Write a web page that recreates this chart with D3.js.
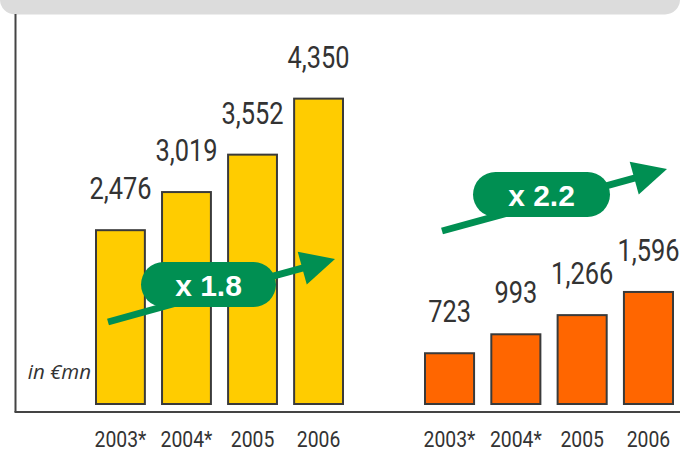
<!DOCTYPE html>
<html>
<head>
<meta charset="utf-8">
<script src="https://cdn.jsdelivr.net/npm/d3@7"></script>
<style>
  html, body { margin: 0; padding: 0; background: #fff; }
  svg { display: block; }
</style>
</head>
<body>
<svg id="chart" width="680" height="452"></svg>
<script>
// Revenue by year, two business segments (in € millions)
const years = ["2003*", "2004*", "2005", "2006"];
const segmentA = [2476, 3019, 3552, 4350];
const segmentB = [723, 993, 1266, 1596];
const unitLabel = "in €mn";

const W = 680, H = 452;
const svg = d3.select("#chart");

const baseY = 404;          // bar baseline
const axisY = 412;          // visible axis rule
const axisX = 15.5;

const y = d3.scaleLinear().domain([0, 5000]).range([baseY, baseY - 351]);

const xA = d3.scaleBand().domain(years).range([96, 343]).paddingInner(0.26).paddingOuter(0);
const xB = d3.scaleBand().domain(years).range([425, 673]).paddingInner(0.26).paddingOuter(0);

const fmt = d3.format(",");
const growth = v => "x " + d3.format(".1f")(v[v.length - 1] / v[0]);

// header band
svg.append("rect")
  .attr("x", 0).attr("y", -20).attr("width", W).attr("height", 34.5)
  .attr("rx", 15).attr("ry", 15)
  .attr("fill", "#dcdcdc");

// axes
svg.append("line")
  .attr("x1", axisX).attr("x2", axisX).attr("y1", 14).attr("y2", axisY)
  .attr("stroke", "#444").attr("stroke-width", 2);
svg.append("line")
  .attr("x1", axisX - 1).attr("x2", W).attr("y1", axisY).attr("y2", axisY)
  .attr("stroke", "#444").attr("stroke-width", 2);

const condensed = 0.82;

function group(x, values, fill) {
  const g = svg.append("g");
  g.selectAll("rect.bar").data(values).join("rect")
    .attr("class", "bar")
    .attr("x", (d, i) => x(years[i]))
    .attr("y", d => y(d))
    .attr("width", x.bandwidth())
    .attr("height", d => y(0) - y(d))
    .attr("fill", fill)
    .attr("stroke", "#3a3a3a")
    .attr("stroke-width", 2);

  g.selectAll("text.val").data(values).join("text")
    .attr("class", "val")
    .attr("transform", (d, i) =>
      `translate(${x(years[i]) + x.bandwidth() / 2},${y(d) - 31}) scale(${condensed},1)`)
    .attr("text-anchor", "middle")
    .attr("font-family", "Roboto, sans-serif")
    .attr("font-size", 31)
    .attr("fill", "#333")
    .text(d => fmt(d));

  // category labels via a bottom axis
  const ax = svg.append("g")
    .attr("transform", `translate(0,${axisY})`)
    .call(d3.axisBottom(x).tickSize(0).tickPadding(0));
  ax.select(".domain").remove();
  ax.selectAll(".tick text")
    .attr("y", 0).attr("dy", 0)
    .attr("transform", `translate(0,35) scale(0.88,1)`)
    .attr("font-family", "Roboto, sans-serif")
    .attr("font-size", 22)
    .attr("fill", "#333");
}

group(xA, segmentA, "#ffcc00");
group(xB, segmentB, "#ff6600");

svg.append("text")
  .attr("x", 91).attr("y", 379)
  .attr("text-anchor", "end")
  .attr("font-family", "'Open Sans', sans-serif")
  .attr("font-style", "italic")
  .attr("font-size", 20.5)
  .attr("fill", "#333")
  .text(unitLabel);

// growth arrows with pill badges
const green = "#008f52";
function growthArrow(x0, y0, x1, y1, pill, label) {
  const g = svg.append("g");
  const dx = x1 - x0, dy = y1 - y0, len = Math.hypot(dx, dy);
  const ux = dx / len, uy = dy / len;
  const headLen = 34, headHalf = 17;
  const bx = x1 - ux * headLen, by = y1 - uy * headLen;
  g.append("line")
    .attr("x1", x0).attr("y1", y0).attr("x2", bx + ux * 2).attr("y2", by + uy * 2)
    .attr("stroke", green).attr("stroke-width", 7);
  g.append("path")
    .attr("d", d3.line()([
      [x1, y1],
      [bx - uy * headHalf, by + ux * headHalf],
      [bx + uy * headHalf, by - ux * headHalf]
    ]) + "Z")
    .attr("fill", green);
  g.append("rect")
    .attr("x", pill.x).attr("y", pill.y).attr("width", pill.w).attr("height", pill.h)
    .attr("rx", pill.h / 2).attr("ry", pill.h / 2)
    .attr("fill", green);
  g.append("text")
    .attr("x", pill.x + pill.w / 2).attr("y", pill.y + pill.h / 2 + 11)
    .attr("text-anchor", "middle")
    .attr("font-family", "'Liberation Sans', Arial, sans-serif")
    .attr("font-weight", "bold")
    .attr("font-size", 30)
    .attr("fill", "#fff")
    .text(label);
}

growthArrow(108, 322, 335, 259, {x: 141, y: 262, w: 135, h: 45}, growth(segmentA));
growthArrow(442, 231, 667, 169, {x: 473, y: 172, w: 137, h: 45}, growth(segmentB));
</script>
</body>
</html>
